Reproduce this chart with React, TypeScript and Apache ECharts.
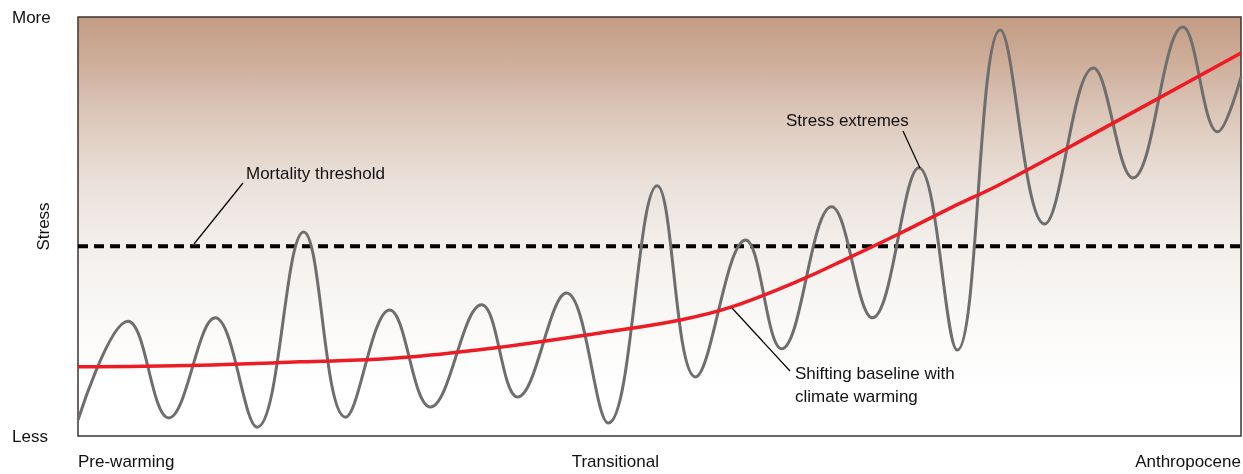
import React, { useEffect, useRef } from "react";
import * as echarts from "echarts";

// Stress extremes (x: time 0-100, y: stress 0-100)
const extremesX = [0, 4.3, 7.8, 11.8, 15.4, 19.4, 23.0, 26.8, 30.3, 34.7, 37.8, 42.0, 45.6, 49.8, 53.1, 57.4, 60.5, 64.8, 68.3, 72.3, 75.6, 79.3, 83.1, 87.3, 90.7, 95.0, 98.0, 100];
const extremesY = [3.8, 27.4, 4.3, 28.2, 2.1, 48.7, 4.5, 30.1, 6.9, 31.3, 9.3, 34.1, 3.1, 59.7, 14.1, 46.8, 20.8, 54.7, 28.2, 64.0, 20.5, 96.9, 50.6, 87.8, 61.6, 97.6, 72.6, 85.7];

// Shifting baseline
const baselineX = [0, 10.5, 19.1, 27.3, 36.3, 44.9, 51.8, 56.2, 62.1, 66.4, 70.7, 75.0, 79.3, 87.9, 100];
const baselineY = [16.5, 16.9, 17.7, 18.6, 21.2, 24.6, 27.7, 30.8, 37.2, 42.7, 48.4, 54.4, 60.1, 73.0, 91.4];

// Mortality threshold
const thresholdX = [0, 100];
const thresholdY = [45.3, 45.3];

// Axis labels
const xTickValues = [0, 46.2, 100];
const xTickLabels = ["Pre-warming", "Transitional", "Anthropocene"];
const yTickValues = [0, 100];
const yTickLabels = ["Less", "More"];

const FONT = "'Liberation Sans', Arial, sans-serif";

export default function App() {
  const ref = useRef<HTMLDivElement>(null);

  useEffect(() => {
    if (!ref.current) return;
    const chart = echarts.init(ref.current, null, { renderer: "svg" });
    const zip = (xs: number[], ys: number[]) => xs.map((x, i) => [x, ys[i]]);

    chart.setOption({
      animation: false,
      grid: {
        left: 78,
        right: 2,
        top: 17,
        bottom: 38,
        outerBoundsMode: "none",
        containLabel: false,
        show: true,
        borderColor: "#3b3431",
        borderWidth: 1.5,
        backgroundColor: {
          type: "linear",
          x: 0,
          y: 0,
          x2: 0,
          y2: 1,
          colorStops: [
            { offset: 0, color: "#c49c84" },
            { offset: 0.1, color: "#cdac98" },
            { offset: 0.2, color: "#d8c1b2" },
            { offset: 0.3, color: "#e2d2c7" },
            { offset: 0.4, color: "#eae1da" },
            { offset: 0.5, color: "#f0ebe7" },
            { offset: 0.6, color: "#f5f2ef" },
            { offset: 0.75, color: "#fbfaf9" },
            { offset: 0.9, color: "#ffffff" },
            { offset: 1, color: "#ffffff" },
          ],
        },
      },
      xAxis: {
        type: "value",
        min: 0,
        max: 100,
        axisLine: { show: false },
        axisTick: { show: false },
        splitLine: { show: false },
        axisLabel: {
          customValues: xTickValues,
          formatter: (v: number) => {
            const i = xTickValues.findIndex((t) => Math.abs(t - v) < 1e-6);
            return i >= 0 ? xTickLabels[i] : "";
          },
          alignMinLabel: "left",
          alignMaxLabel: "right",
          margin: 17,
          fontSize: 17,
          fontFamily: FONT,
          color: "#111",
        },
      },
      yAxis: {
        type: "value",
        min: 0,
        max: 100,
        name: "Stress",
        nameLocation: "middle",
        nameRotate: 90,
        nameGap: 26,
        nameMoveOverlap: false,
        nameTextStyle: { fontSize: 17, fontFamily: FONT, color: "#111" },
        axisLine: { show: false },
        axisTick: { show: false },
        splitLine: { show: false },
        axisLabel: {
          customValues: yTickValues,
          formatter: (v: number) => {
            const i = yTickValues.findIndex((t) => Math.abs(t - v) < 1e-6);
            return i >= 0 ? yTickLabels[i] : "";
          },
          align: "left",
          margin: 66,
          fontSize: 17,
          fontFamily: FONT,
          color: "#111",
        },
      },
      series: [
        {
          type: "line",
          data: zip(thresholdX, thresholdY),
          symbol: "none",
          lineStyle: { color: "#000", width: 4, type: [10, 6] },
          z: 2,
        },
        {
          type: "line",
          data: zip(extremesX, extremesY),
          smooth: 0.4,
          symbol: "none",
          lineStyle: { color: "#6e6e6e", width: 3 },
          z: 3,
        },
        {
          type: "line",
          data: zip(baselineX, baselineY),
          smooth: 0.4,
          symbol: "none",
          lineStyle: { color: "#ed1c24", width: 3.5 },
          z: 4,
        },
      ],
      graphic: [
        {
          type: "line",
          shape: { x1: 243, y1: 183, x2: 194, y2: 244 },
          style: { stroke: "#000", lineWidth: 1.2 },
          z: 10,
        },
        {
          type: "text",
          x: 246,
          y: 173,
          style: { text: "Mortality threshold", fontSize: 17, fontFamily: FONT, fill: "#111", verticalAlign: "middle" },
          z: 10,
        },
        {
          type: "line",
          shape: { x1: 903, y1: 131, x2: 920, y2: 168 },
          style: { stroke: "#000", lineWidth: 1.2 },
          z: 10,
        },
        {
          type: "text",
          x: 786,
          y: 120,
          style: { text: "Stress extremes", fontSize: 17, fontFamily: FONT, fill: "#111", verticalAlign: "middle" },
          z: 10,
        },
        {
          type: "line",
          shape: { x1: 732, y1: 308, x2: 790, y2: 371 },
          style: { stroke: "#000", lineWidth: 1.2 },
          z: 10,
        },
        {
          type: "text",
          x: 795,
          y: 362,
          style: {
            text: "Shifting baseline with\nclimate warming",
            fontSize: 17,
            lineHeight: 23,
            fontFamily: FONT,
            fill: "#111",
            verticalAlign: "top",
          },
          z: 10,
        },
      ],
    });

    return () => chart.dispose();
  }, []);

  return (
    <div
      ref={ref}
      style={{ position: "fixed", left: 0, top: 0, width: 1243, height: 474 }}
    />
  );
}
